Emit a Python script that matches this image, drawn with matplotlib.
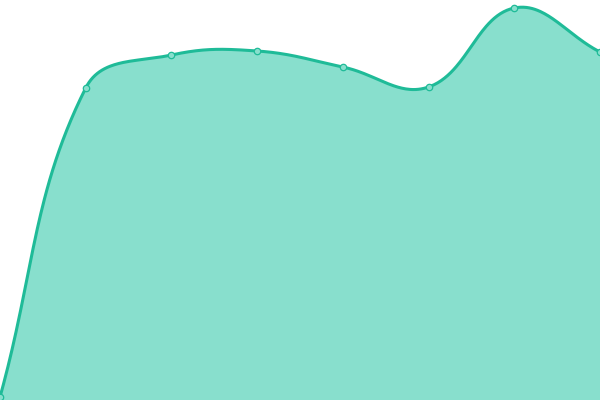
import numpy as np
import matplotlib
matplotlib.use("Agg")
import matplotlib.pyplot as plt

# values (plot height 400 = value range 0..400)
categories = list(range(8))
values = [3, 312, 345, 349, 333, 313, 392, 348]

LINE = "#1fbb98"
FILL = "#88dfcd"
TENSION = 0.4


def spline(xs, ys, n=60):
    # bezier spline with distance-weighted control points (tension 0.4)
    pts = np.column_stack([xs, ys]).astype(float)
    cps = []
    for i, cur in enumerate(pts):
        prev = pts[i - 1] if i > 0 else cur
        nxt = pts[i + 1] if i < len(pts) - 1 else cur
        d01 = np.hypot(*(cur - prev))
        d12 = np.hypot(*(nxt - cur))
        tot = d01 + d12
        s01 = d01 / tot if tot else 0
        s12 = d12 / tot if tot else 0
        cp_prev = cur - TENSION * s01 * (nxt - prev)
        cp_next = cur + TENSION * s12 * (nxt - prev)
        cp_prev[1] = np.clip(cp_prev[1], 0, 400)
        cp_next[1] = np.clip(cp_next[1], 0, 400)
        cps.append((cp_prev, cp_next))
    t = np.linspace(0, 1, n)[:, None]
    out = []
    for i in range(len(pts) - 1):
        p0, p3 = pts[i], pts[i + 1]
        c1, c2 = cps[i][1], cps[i + 1][0]
        b = (1 - t) ** 3 * p0 + 3 * (1 - t) ** 2 * t * c1 + 3 * (1 - t) * t ** 2 * c2 + t ** 3 * p3
        out.append(b)
    out = np.vstack(out)
    return out[:, 0], out[:, 1]


step = 600 / (len(categories) - 1)
xs = np.array(categories) * step
sx, sy = spline(xs, values)

fig = plt.figure(figsize=(6, 4), dpi=100)
ax = fig.add_axes([0, 0, 1, 1])
ax.fill_between(sx, 0, sy, color=FILL, lw=0)
ax.plot(sx, sy, color=LINE, lw=2.2, solid_capstyle="round")
ax.plot(xs, values, "o", ms=4.6, mfc=FILL, mec=LINE, mew=0.9, clip_on=False)
ax.set_xlim(0, 600)
ax.set_ylim(0, 400)
ax.axis("off")

fig.savefig("out.png")
